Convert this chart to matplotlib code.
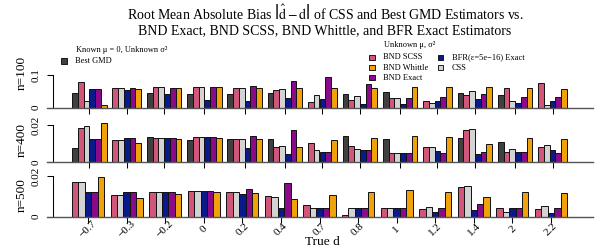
import numpy as np
import matplotlib.pyplot as plt
from matplotlib.patches import Rectangle

plt.rcParams['font.family'] = 'Liberation Serif'
plt.rcParams['mathtext.fontset'] = 'stix'

nan = np.nan

# true d values (group labels)
d_labels = ["\u22120.7", "\u22120.3", "\u22120.2", "0", "0.2", "0.4", "0.7", "0.8",
            "1", "1.2", "1.4", "2", "2.2"]

est_names = ["Best GMD", "BND SCSS", "CSS", "BFR(\u03b5=5e\u221216) Exact", "BND Exact", "BND Whittle"]
est_colors = ["#404040", "#D2567A", "#D3D3D3", "#0A1A8A", "#8A0A8A", "#F0A20A"]

# n = 100
gmd_100 = [0.045, nan, 0.045, 0.043, 0.041, 0.046, nan, 0.042, 0.049, nan, 0.044, 0.038, nan]
scss_100 = [0.080, 0.060, 0.062, 0.063, 0.061, 0.053, 0.016, 0.023, 0.030, 0.019, 0.038, 0.059, 0.077]
css_100 = [0.019, 0.059, 0.062, 0.063, 0.061, 0.056, 0.038, 0.035, 0.030, 0.015, 0.050, 0.022, 0.008]
bfr_100 = [0.057, 0.055, 0.042, 0.023, 0.022, 0.030, 0.026, 0.010, 0.011, 0.019, 0.026, 0.013, 0.020]
exact_100 = [0.057, 0.059, 0.060, 0.062, 0.067, 0.082, 0.095, 0.073, 0.031, 0.032, 0.042, 0.032, 0.033]
whittle_100 = [0.008, 0.056, 0.059, 0.062, 0.061, 0.059, 0.060, 0.061, 0.064, 0.063, 0.062, 0.059, 0.058]

# n = 400
gmd_400 = [0.0079, nan, 0.0134, 0.0120, 0.0127, 0.0127, nan, 0.0143, 0.0127, nan, 0.0129, 0.0111, nan]
scss_400 = [0.0182, 0.0118, 0.0129, 0.0134, 0.0125, 0.0080, 0.0105, 0.0086, 0.0052, 0.0082, 0.0173, 0.0055, 0.0084]
css_400 = [0.0193, 0.0118, 0.0129, 0.0134, 0.0125, 0.0088, 0.0066, 0.0070, 0.0052, 0.0084, 0.0177, 0.0070, 0.0093]
bfr_400 = [0.0123, 0.0129, 0.0130, 0.0134, 0.0075, 0.0045, 0.0054, 0.0064, 0.0052, 0.0063, 0.0045, 0.0055, 0.0068]
exact_400 = [0.0123, 0.0129, 0.0130, 0.0134, 0.0143, 0.0175, 0.0054, 0.0064, 0.0052, 0.0048, 0.0054, 0.0055, 0.0052]
whittle_400 = [0.0211, 0.0105, 0.0123, 0.0132, 0.0125, 0.0082, 0.0120, 0.0129, 0.0141, 0.0134, 0.0096, 0.0132, 0.0123]

# n = 500 (no Best GMD)
scss_500 = [0.0170, 0.0107, 0.0121, 0.0126, 0.0121, 0.0102, 0.0056, 0.0010, 0.0041, 0.0040, 0.0149, 0.0043, 0.0038]
css_500 = [0.0170, 0.0107, 0.0121, 0.0126, 0.0121, 0.0099, 0.0041, 0.0041, 0.0041, 0.0046, 0.0152, 0.0021, 0.0051]
bfr_500 = [0.0121, 0.0121, 0.0122, 0.0126, 0.0112, 0.0043, 0.0041, 0.0041, 0.0043, 0.0021, 0.0035, 0.0043, 0.0018]
exact_500 = [0.0121, 0.0121, 0.0122, 0.0126, 0.0136, 0.0167, 0.0041, 0.0041, 0.0043, 0.0041, 0.0063, 0.0043, 0.0043]
whittle_500 = [0.0195, 0.0094, 0.0112, 0.0122, 0.0117, 0.0088, 0.0109, 0.0122, 0.0131, 0.0122, 0.0098, 0.0124, 0.0116]

W, H = 600, 250


def fx(px):
    return px / W


def fy(py):
    return 1 - py / H


fig = plt.figure(figsize=(6, 2.5), dpi=100)

# name, {estimator index: values}, baseline px, px per unit, ymax, top tick, label, row label y, show x labels
panels = [
    ("n=100", {0: gmd_100, 1: scss_100, 2: css_100, 3: bfr_100, 4: exact_100, 5: whittle_100},
     107.7, 327, 0.106, 0.1, "0.1", 73, False),
    ("n=400", {0: gmd_400, 1: scss_400, 2: css_400, 3: bfr_400, 4: exact_400, 5: whittle_400},
     162.3, 1866, 0.0221, 0.02, "0.02", 140, False),
    ("n=500", {1: scss_500, 2: css_500, 3: bfr_500, 4: exact_500, 5: whittle_500},
     216.7, 2020, 0.0221, 0.02, "0.02", 195.5, True),
]

for name, series, base_px, scale, ymax, ytop, ytop_lab, lab_y, show_x in panels:
    ax = fig.add_axes([fx(52.7), fy(base_px), 540.3 / W, ymax * scale / H])

    # bars of each group side by side, missing values take no space
    pos = {k: ([], []) for k in series}
    centers = []
    x = 0
    for g in range(len(d_labels)):
        start = x
        for k in sorted(series):
            v = series[k][g]
            if not np.isnan(v):
                pos[k][0].append(x)
                pos[k][1].append(v)
                x += 1
        centers.append((start + x) / 2)
        x += 1
    total = x - 1

    for k in sorted(series):
        ax.bar(pos[k][0], pos[k][1], width=1, align='edge', color=est_colors[k],
               edgecolor='#111111', linewidth=0.7)

    ppu = 495 / total
    ax.set_xlim(-19.3 / ppu, total + 26 / ppu)
    ax.set_ylim(0, ymax)
    ax.axhline(0, xmin=-0.0105, xmax=1, color='#555555', lw=1.0, clip_on=False, zorder=3)

    for s in ['top', 'right', 'bottom']:
        ax.spines[s].set_visible(False)
    ax.spines['left'].set_bounds(0, ytop)
    ax.spines['left'].set_linewidth(0.75)

    ax.set_yticks([0, ytop])
    ax.set_yticklabels(["0", ytop_lab], rotation=90, va='center', fontsize=8)
    ax.tick_params(axis='y', length=4, width=0.75, pad=5)

    ax.set_xticks(centers)
    if show_x:
        ax.set_xticklabels(d_labels, rotation=45, ha='center', va='center', fontsize=8)
    else:
        ax.set_xticklabels([])
    ax.tick_params(axis='x', length=4, width=0.75, pad=5.2)

    fig.text(fx(22), fy(lab_y), name, rotation=90, ha='center', va='center', fontsize=9.5)

fig.text(fx(325), fy(19.5),
         r"Root Mean Absolute Bias $\left|\hat{\mathrm{d}}-\mathrm{d}\right|$ of CSS and Best GMD Estimators vs.",
         ha='center', va='baseline', fontsize=10)
fig.text(fx(325), fy(34), "BND Exact, BND SCSS, BND Whittle, and BFR Exact Estimators",
         ha='center', va='baseline', fontsize=10)

fig.text(fx(322), fy(242), "True d", ha='center', va='center', fontsize=9.6)


def key(cx, cy, color, label):
    fig.add_artist(Rectangle((fx(cx - 2.85), fy(cy + 2.65)), 5.7 / W, 5.3 / H,
                             transform=fig.transFigure, facecolor=color,
                             edgecolor='black', lw=0.6))
    fig.text(fx(cx + 11.3), fy(cy), label, fontsize=6, ha='left', va='center')


fig.text(fx(75.5), fy(50), "Known \u03bc = 0, Unknown \u03c3\u00b2", fontsize=6, ha='left', va='center')
key(63.7, 61, est_colors[0], est_names[0])

fig.text(fx(384), fy(45.5), "Unknown \u03bc, \u03c3\u00b2", fontsize=6, ha='left', va='center')
key(372, 57.3, est_colors[1], est_names[1])
key(372, 67.5, est_colors[5], est_names[5])
key(372, 77.5, est_colors[4], est_names[4])
key(440.5, 57.3, est_colors[3], est_names[3])
key(440.5, 67.5, est_colors[2], est_names[2])

fig.savefig("out.png", dpi=100)
